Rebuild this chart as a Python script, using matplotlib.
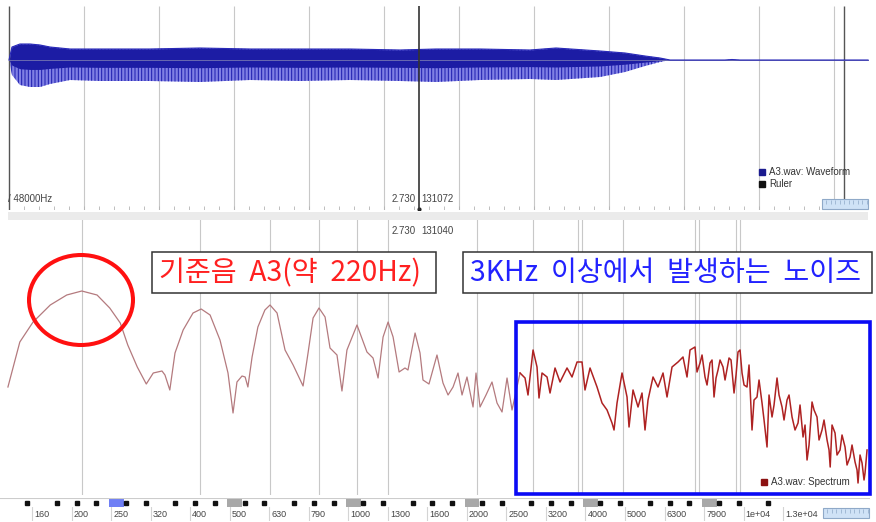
import numpy as np
import matplotlib

matplotlib.use("Agg")
import matplotlib.pyplot as plt
from matplotlib.patches import Rectangle, Ellipse

W, H = 876, 522
UI_FONT = ["Liberation Sans", "DejaVu Sans"]
KR_FONT = ["Noto Sans CJK KR", "DejaVu Sans"]

# ---- waveform envelope (seconds, normalized amplitude) ----
wave_t = [0.0, 0.02, 0.073, 0.14, 0.207, 0.273, 0.407, 0.607, 0.94, 1.273, 1.607, 1.94, 2.273, 2.607,
          2.847, 3.14, 3.473, 3.647, 3.94, 4.107, 4.24, 4.34, 4.407, 4.773, 4.82, 4.873, 5.727]
wave_hi = [0, 0.325, 0.4, 0.4, 0.375, 0.325, 0.275, 0.275, 0.275, 0.3, 0.275, 0.275, 0.275, 0.25,
           0.275, 0.275, 0.25, 0.3, 0.225, 0.175, 0.1, 0.05, 0, 0, 0.0125, 0, 0]
wave_lo = [0, -0.375, -0.625, -0.675, -0.675, -0.6, -0.5, -0.525, -0.525, -0.55, -0.5, -0.525, -0.5, -0.525,
           -0.55, -0.5, -0.475, -0.5, -0.425, -0.3, -0.15, -0.05, 0, 0, -0.0125, 0, 0]
wave_grid_s = [0.5, 1.0, 1.5, 2.0, 2.5, 3.0, 3.5, 4.0, 4.5, 5.0, 5.5]
ruler_s = 2.730
view_end_s = 5.567

# ---- spectrum (Hz, dB) ----
spec_hz = [139, 149, 161, 178, 196, 214, 234, 252, 268, 280, 296, 312, 325, 342, 348, 358, 369, 387, 410, 430,
           453, 480, 503, 518, 530, 546, 556, 565, 579, 599, 624, 643, 670, 702, 736, 780, 803, 827, 856, 887,
           913, 951, 979, 1008, 1069, 1133, 1174, 1209, 1245, 1282, 1320, 1367, 1415, 1440, 1501, 1545, 1572,
           1628, 1706, 1767, 1820, 1874, 1929, 1975, 2033, 2106, 2143, 2194, 2272, 2353, 2423, 2495, 2569, 2645,
           2772, 2854, 2904, 2991, 3061, 3097, 3152, 3246, 3303, 3401, 3502, 3648, 3756, 3868, 3982, 4052, 4173,
           4347, 4476, 4609, 4745, 4801, 4886, 5031, 5180, 5241, 5365, 5524, 5654, 5754, 5856, 6030, 6209, 6393,
           6544, 6738, 6979, 7185, 7355, 7485, 7707, 7936, 8171, 8413, 8613, 8816, 9078, 9402, 9681, 9909,
           10145, 10445, 10754, 11073, 11402, 11740, 12088, 12446, 12816, 13196, 13588, 14073, 14490, 14833,
           15272, 15724, 16190, 16673, 16982, 17470, 17987, 18521, 19070, 19636, 19982, 20456, 20817, 21062]
spec_db = [-66.8, -48.8, -40.8, -34, -30, -28.4, -30, -35.2, -41.2, -50, -58.8, -65.6, -61.2, -60.4, -62, -68,
           -53.2, -44, -37.2, -35.6, -38, -48, -61.2, -77.2, -64.8, -62.4, -62.8, -66.8, -54.8, -42.8, -36, -34,
           -37.2, -52, -58, -66.4, -53.2, -39.2, -35.2, -38.8, -51.2, -54, -68.4, -52, -42, -52.8, -55.2, -63.2,
           -46.8, -40.8, -46.8, -60.8, -59.2, -60, -45.2, -53.2, -64, -65.6, -54, -65.2, -70, -66.8, -61.2, -70,
           -62.8, -74.8, -61.2, -74.8, -70, -64.8, -73.2, -76.8, -63.2, -76,
           -61.2, -63.2, -70, -52, -58.8, -71.2, -61.2, -62.8, -69.2, -59.2, -64.8, -59.2, -62.8, -56.8, -56.8,
           -68, -59.2, -66.8, -73.2, -76, -81.2, -84, -73.2, -61.2, -70.8, -82.8, -68, -74.8, -69.2, -84, -72,
           -62.8, -66.8, -61.2, -70.8, -58.8, -56.8, -54.8, -62.8, -52, -50.8, -57.2, -62.8, -57.2, -70.8, -60,
           -58.8, -55.2, -69.2, -52.8, -61.2, -66.8, -84, -70.8, -73.2, -90.8, -78.8, -63.2, -74.8, -72, -78.8,
           -81.2, -86.8, -96, -72.8, -78.8, -84, -88, -98.8, -85.2, -92, -90.8, -94.8, -96.8, -105.2, -97.2,
           -101.2, -92]
# extra readings of the dense spikes above ~7.8 kHz
spec_hz_fine = [7798, 8030, 8268, 8513, 8714, 8920, 9185, 9513, 9795, 10027, 10264, 10568, 10881, 11204,
                11537, 11878, 12231, 12593, 12966, 13351, 13827, 14237, 14660, 15007, 15452, 15910, 16381,
                16868, 17165, 17673, 18198, 18739, 19294, 19867, 20218, 20695]
spec_db_fine = [-60.8, -54, -66, -56, -63.2, -56, -64, -56, -62, -52, -66, -58, -72, -64, -80, -70, -74, -70,
                -80, -70, -84, -74, -82, -90, -76, -88, -80, -92, -82, -94, -86, -98, -90, -100, -94, -104]
spec_grid_hz = [214, 428, 642, 856, 1070, 1284, 2150, 2990, 3890, 3980, 5060, 7700, 7890, 9790, 10030]
noise_from_hz = 2700
freq_labels = ["160", "200", "250", "320", "400", "500", "630", "790", "1000", "1300", "1600", "2000",
               "2500", "3200", "4000", "5000", "6300", "7900", "1e+04", "1.3e+04"]

F_LO, F_HI = 132.7, 21430

fig = plt.figure(figsize=(W / 100, H / 100), dpi=100)
plt.rcParams["hatch.linewidth"] = 0.7


def box(x0, y0, x1, y1):
    """pixel box (top-left origin) -> figure rect"""
    return [x0 / W, 1 - y1 / H, (x1 - x0) / W, (y1 - y0) / H]


# ---------------- waveform panel ----------------
ax_w = fig.add_axes(box(0, 5, W, 210))
ax_w.set_xlim(-9 / 150, (W - 9) / 150)
ax_w.set_ylim(-3.75, 1.375)
ax_w.axis("off")
ax_w.vlines(wave_grid_s, -3.75, 1.35, color="#c8c8c8", lw=0.8, zorder=0.5)
ax_w.vlines(np.arange(0, 5.75, 0.1), -3.75, -3.66, color="#b4b4b4", lw=0.6)
ax_w.vlines([0, view_end_s], -3.75, 1.35, color="#555555", lw=1.0)
ax_w.vlines([ruler_s], -3.75, 1.35, color="#333333", lw=1.2, zorder=3)
ax_w.plot([ruler_s], [-3.72], marker="o", ms=2, color="#222222")
t = np.array(wave_t)
lo = np.array(wave_lo)
hi = np.array(wave_hi)
ax_w.plot(t, np.zeros_like(t), color="#6a6ab0", lw=0.7)
ax_w.fill_between(t, lo, hi, facecolor="#8080e4", edgecolor="#1c1cae", hatch="|||||", lw=0)
ax_w.fill_between(t, lo * 0.35, hi, color="#1c1ca4", lw=0)
ax_w.plot(t, hi, color="#2a2ab8", lw=0.8)

# ---------------- spectrum panel ----------------
ax_s = fig.add_axes(box(0, 220, 870, 495))
ax_s.set_xscale("log", base=2)
ax_s.set_xlim(F_LO, F_HI)
ax_s.set_ylim(-110, 0)
ax_s.axis("off")
for f in spec_grid_hz:
    ax_s.axvline(f, color="#c8c8c8", lw=0.8)
hz = np.array(spec_hz + spec_hz_fine)
db = np.array(spec_db + spec_db_fine)
order = np.argsort(hz)
hz, db = hz[order], db[order]
cut = int(np.searchsorted(hz, noise_from_hz))
ax_s.plot(hz[:cut + 1], db[:cut + 1], color="#b47a7e", lw=0.9)
ax_s.plot(hz[cut:], db[cut:], color="#ae2222", lw=1.1)

# piano strip under the spectrum
ax_k = fig.add_axes(box(0, 498, 870, 507))
ax_k.set_xscale("log", base=2)
ax_k.set_xlim(F_LO, F_HI)
ax_k.set_ylim(0, 1)
ax_k.set_xticks([])
ax_k.set_yticks([])
for s in ax_k.spines.values():
    s.set_visible(False)
ax_k.axhline(1, color="#cccccc", lw=0.8)
semi = 2 ** (1 / 12)
for n in range(50, 128):
    f = 440 * 2 ** ((n - 69) / 12)
    if n % 12 == 0:
        ax_k.axvspan(f / semi ** 0.75, f * semi ** 0.75, 0, 0.95,
                     color="#6f7ff5" if n == 60 else "#a8a8a8", lw=0)
    if n % 12 in (1, 3, 6, 8, 10):
        ax_k.plot([f], [0.45], marker="s", ms=3.2, color="#111111", ls="none")

ax_l = fig.add_axes(box(0, 507, 870, 521))
ax_l.set_xscale("log", base=2)
ax_l.set_xlim(F_LO, F_HI)
ax_l.set_ylim(0, 1)
ax_l.axis("off")
ax_l.axvline(127, color="#d4d4d4", lw=0.8)
for i, lab in enumerate(freq_labels):
    f = 160 * 2 ** (i / 3)
    ax_l.axvline(f, color="#d4d4d4", lw=0.8)
    ax_l.text(f * 1.012, 0.45, lab, fontsize=6.5, color="#444444", va="center", ha="left",
              family=UI_FONT)

# ---------------- overlay in pixel coordinates ----------------
ov = fig.add_axes([0, 0, 1, 1], zorder=10)
ov.set_xlim(0, W)
ov.set_ylim(H, 0)
ov.axis("off")
ov.patch.set_alpha(0)

ov.add_patch(Rectangle((8, 212), 860, 8, fc="#ebebeb", ec="none"))
for x0, y0 in [(822, 199), (823, 508)]:
    ov.add_patch(Rectangle((x0, y0), 46, 10, fc="#cfe2f6", ec="#8fa9c8", lw=0.8))
    ov.vlines(np.arange(x0 + 4, x0 + 46, 4.5), y0 + 1, y0 + 5, color="#8fa9c8", lw=0.5)

ov.text(8, 199, "/ 48000Hz", fontsize=7, color="#444444", va="center", family=UI_FONT)
ov.text(416, 199, "2.730", fontsize=7, color="#444444", va="center", ha="right", family=UI_FONT)
ov.text(421, 199, "131072", fontsize=7, color="#444444", va="center", family=UI_FONT)
ov.text(416, 231, "2.730", fontsize=7, color="#444444", va="center", ha="right", family=UI_FONT)
ov.text(421, 231, "131040", fontsize=7, color="#444444", va="center", family=UI_FONT)

ov.plot([762], [172], marker="s", ms=4, color="#1b1b8f", ls="none")
ov.text(769, 172, "A3.wav: Waveform", fontsize=7, color="#333333", va="center", family=UI_FONT)
ov.plot([762], [184], marker="s", ms=4, color="#111111", ls="none")
ov.text(769, 184, "Ruler", fontsize=7, color="#333333", va="center", family=UI_FONT)
ov.plot([764], [482], marker="s", ms=4, color="#8c1212", ls="none")
ov.text(771, 482, "A3.wav: Spectrum", fontsize=7, color="#333333", va="center", family=UI_FONT)

# annotations
ov.add_patch(Ellipse((81, 300), 104, 90, fc="none", ec="#ff1010", lw=2.9))
ov.add_patch(Rectangle((516, 321.5), 354, 172, fc="none", ec="#0a0af5", lw=2.6))
ov.add_patch(Rectangle((152, 252), 284, 41, fc="white", ec="#333333", lw=1.1))
ov.text(159, 273, "기준음  A3(약  220Hz)", fontsize=20.3, color="#ff2020", va="center",
        family=KR_FONT)
ov.add_patch(Rectangle((463, 252), 409, 41, fc="white", ec="#333333", lw=1.1))
ov.text(470, 273, "3KHz  이상에서  발생하는  노이즈", fontsize=20.3, color="#2222ff", va="center",
        family=KR_FONT)

fig.savefig("out.png", dpi=100)
plt.close(fig)
